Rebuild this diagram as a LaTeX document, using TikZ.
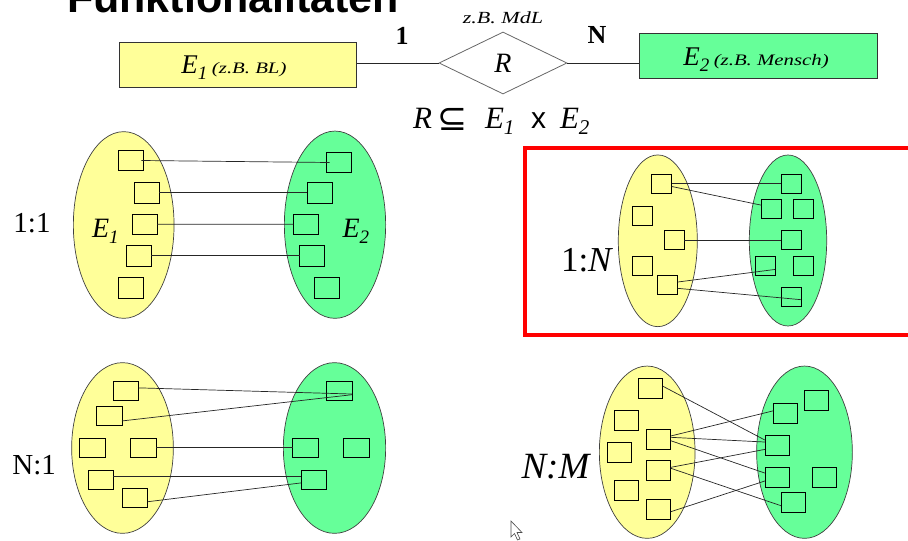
\documentclass[tikz,border=0pt]{standalone}
\usepackage{fontspec}
\setmainfont{Liberation Serif}
\newfontfamily\arialf{Liberation Sans}
\newfontfamily\djv{DejaVu Sans}
\usetikzlibrary{shapes.geometric}
\definecolor{yel}{HTML}{FFFF99}
\definecolor{grn}{HTML}{66FF99}
\definecolor{redb}{HTML}{FF0000}
\newcommand{\fs}[1]{\fontsize{#1}{#1}\selectfont}
\begin{document}
\begin{tikzpicture}[x=1pt,y=-1pt,
  sq/.style={draw=black, line width=0.8pt, inner sep=0pt, outer sep=0pt},
  ys/.style={sq, fill=yel},
  gs/.style={sq, fill=grn},
  ell/.style={ellipse, draw=black!75, line width=0.7pt, inner sep=0pt},
  ye/.style={ell, fill=yel},
  ge/.style={ell, fill=grn},
  con/.style={draw=black!85, line width=0.7pt},
  lab/.style={inner sep=0pt, outer sep=0pt},
  ent/.style={draw=black!80, line width=0.8pt, inner sep=0pt},
]
\useasboundingbox (0,0) rectangle (908,541);

% title (cut off at top)
\node[lab, anchor=base west] (title) at (67,12.5) {\arialf\bfseries\fs{43}Funktionalitäten};

% ER header
\node[ent, fill=yel, minimum width=237.4pt, minimum height=45.3pt] (E1) at (238,64.7) {};
\node[lab] (E1t) at (234,68) {\fs{27}\itshape E\raisebox{-6pt}{\fs{19}1}\,\scalebox{1.3}[1]{\fs{16}(z.B. BL)}};
\node[ent, fill=grn, minimum width=238pt, minimum height=45pt] (E2) at (758.3,55.8) {};
\node[lab] (E2t) at (756,60) {\fs{27}\itshape E\raisebox{-6pt}{\fs{19}2}\,\scalebox{1.3}[1]{\fs{16}(z.B. Mensch)}};
\node[diamond, draw=black!60, line width=0.8pt, minimum width=128pt, minimum height=62pt, inner sep=0pt] (R) at (503,63) {\fs{28}\itshape R};
\draw[con] (E1.east |- R.west) -- (R.west);
\draw[con] (R.east) -- (E2.west |- R.east);
\node[lab] (one) at (402,36) {\fs{26}\bfseries 1};
\node[lab] (enn) at (597,35) {\fs{26}\bfseries N};
\node[lab] (mdl) at (503,18) {\scalebox{1.3}[1]{\fs{17}\itshape z.B. MdL}};

% R subset E1 x E2
\node[lab, anchor=base west] (fR) at (413,128) {\fs{31}\itshape R};
\node[lab] (fsub) at (453,119) {\djv\fs{36}⊆};
\node[lab, anchor=base west] (fE1) at (485,128) {\fs{31}\itshape E\raisebox{-6pt}{\fs{21}1}};
\node[lab, anchor=base west] (fx) at (531,128) {\arialf\fs{30}x};
\node[lab, anchor=base west] (fE2) at (560,128) {\fs{31}\itshape E\raisebox{-6pt}{\fs{21}2}};

% ---------- 1:1 ----------
\node[ye, minimum width=100.7pt, minimum height=186.7pt] (ya) at (123.7,225) {};
\node[ge, minimum width=101.3pt, minimum height=187.3pt] (ga) at (335,224.7) {};
\node[lab, anchor=base west] (laba) at (92,237) {\fs{28}\itshape E\raisebox{-6pt}{\fs{19}1}};
\node[lab, anchor=base west] (labb) at (342.5,237) {\fs{28}\itshape E\raisebox{-6pt}{\fs{19}2}};
\node[lab] (t11) at (32,223) {\fs{29}1:1};
\begin{scope}[every node/.append style={minimum width=25pt, minimum height=20.5pt}]
\node[ys] (a1) at (130.8,160.5) {};
\node[ys] (a2) at (146.5,192.7) {};
\node[ys] (a3) at (144.7,224.2) {};
\node[ys] (a4) at (138.7,255.8) {};
\node[ys] (a5) at (130.8,288) {};
\node[gs] (b1) at (339.2,162.5) {};
\node[gs] (b2) at (319.5,192.7) {};
\node[gs] (b3) at (305.8,224.3) {};
\node[gs] (b4) at (312,255.8) {};
\node[gs] (b5) at (327.3,288) {};
\end{scope}
\draw[con] ([xshift=-2pt]a1.east) -- ([xshift=3pt]b1.west);
\draw[con] (a2.east) -- (b2.west);
\draw[con] (a3.east) -- (b3.west);
\draw[con] (a4.east) -- (b4.west);

% ---------- 1:N ----------
\draw[redb, line width=4pt] (525,148) rectangle (920,334.5);
\node[ye, minimum width=79pt, minimum height=171.7pt] (yb) at (657.8,240.8) {};
\node[ge, minimum width=77.4pt, minimum height=171pt] (gb) at (788,240.5) {};
\node[lab, anchor=base west] (t1n) at (561,271.7) {\fs{35}1:\textit{N}};
\begin{scope}[every node/.append style={minimum width=20pt, minimum height=19pt}]
\node[ys] (c1) at (661.7,183.8) {};
\node[ys] (c2) at (642,215.7) {};
\node[ys] (c3) at (674.2,240.3) {};
\node[ys] (c4) at (642,266.2) {};
\node[ys] (c5) at (667.7,284.7) {};
\node[gs] (d1) at (791,183.8) {};
\node[gs] (d2) at (771.3,208.8) {};
\node[gs] (d3) at (803.7,208.8) {};
\node[gs] (d4) at (791,240.3) {};
\node[gs] (d5) at (765,265.8) {};
\node[gs] (d6) at (803.7,265.8) {};
\node[gs] (d7) at (791,297) {};
\end{scope}
\draw[con] (c1.east) -- (d1.west);
\draw[con] (c1.-15) -- (d2.160);
\draw[con] (c3.east) -- (d4.west);
\draw[con] (c5.15) -- (d5.-20);
\draw[con] (c5.-20) -- (d7.-15);

% ---------- N:1 ----------
\node[ye, minimum width=101.7pt, minimum height=170.7pt] (yc) at (122.5,448) {};
\node[ge, minimum width=102.3pt, minimum height=170.7pt] (gc) at (334.5,448) {};
\node[lab, anchor=base west] (tn1) at (12.5,474) {\fs{29}N:1};
\begin{scope}[every node/.append style={minimum width=25.5pt, minimum height=19pt}]
\node[ys] (e1) at (126,391.3) {};
\node[ys] (e2) at (109.2,416.3) {};
\node[ys] (e3) at (92.2,447.8) {};
\node[ys] (e4) at (143.5,447.8) {};
\node[ys] (e5) at (100.7,479.5) {};
\node[ys] (e6) at (135,498.3) {};
\node[gs] (f1) at (339.2,391.3) {};
\node[gs] (f2) at (305.3,447.8) {};
\node[gs] (f3) at (356.2,447.8) {};
\node[gs] (f4) at (313.8,479.5) {};
\end{scope}
\draw[con] (e1.15) -- (f1.-12);
\draw[con] (e2.-20) -- (f1.-15);
\draw[con] (e4.east) -- (f2.west);
\draw[con] (e5.15) -- (f4.165);
\draw[con] (e6.-15) -- (f4.195);

% ---------- N:M ----------
\node[ye, minimum width=95.7pt, minimum height=172.3pt] (yd) at (647.2,452.2) {};
\node[ge, minimum width=95.7pt, minimum height=172.3pt] (gd) at (804.5,452.2) {};
\node[lab, anchor=base west] (tnm) at (521.5,478.3) {\fs{37}\itshape N:M};
\begin{scope}[every node/.append style={minimum width=24pt, minimum height=20pt}]
\node[ys] (g1) at (650.8,388.3) {};
\node[ys] (g2) at (626.7,420) {};
\node[ys] (g3) at (658.7,439) {};
\node[ys] (g4) at (619.2,452) {};
\node[ys] (g5) at (658.7,470.8) {};
\node[ys] (g6) at (626.7,490) {};
\node[ys] (g7) at (658.7,509.2) {};
\node[gs] (h1) at (816.3,400.8) {};
\node[gs] (h2) at (785,413) {};
\node[gs] (h3) at (777,445.7) {};
\node[gs] (h4) at (777,477.5) {};
\node[gs] (h5) at (824.5,477.5) {};
\node[gs] (h6) at (793,502.5) {};
\end{scope}
\draw[con] (g1.10) -- (h3.155);
\draw[con] (g3.14) -- (h2.170);
\draw[con] (g3.8) -- (h3.163);
\draw[con] (g3.-8) -- (h4.160);
\draw[con] (g5.16) -- (h3.197);
\draw[con] (g5.12) -- (h6.195);
\draw[con] (g7.-12) -- (h4.196);

% mouse cursor
\draw[fill=white, draw=black!70, line width=0.6pt, line join=miter]
  (511,521) -- (511,537) -- (514.5,533.5) -- (517.5,540) -- (520,539) -- (517,532.5) -- (522,532.5) -- cycle;
\end{tikzpicture}
\end{document}
